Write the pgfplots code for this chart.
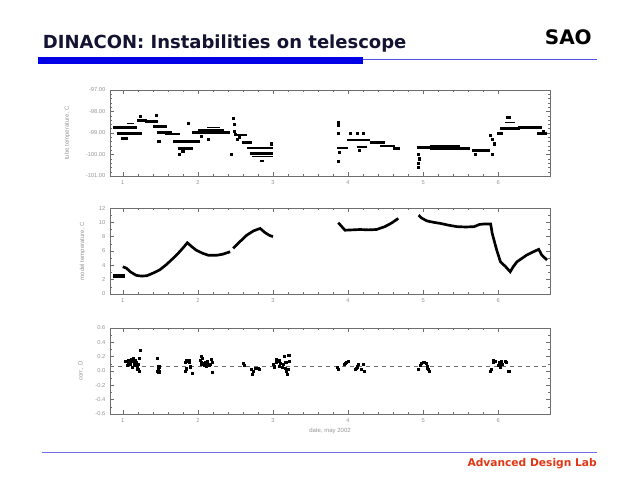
\documentclass[border=0pt]{standalone}
\usepackage{fontspec}
\setmainfont{DejaVu Sans}
\newfontfamily\smallf{Liberation Sans}
\usepackage{pgfplots}
\pgfplotsset{compat=1.18}
\definecolor{titlec}{RGB}{20,20,50}
\definecolor{barblue}{RGB}{0,0,230}
\definecolor{lineblue}{RGB}{80,80,230}
\definecolor{botblue}{RGB}{110,110,235}
\definecolor{adlred}{RGB}{225,55,20}
\definecolor{axgray}{RGB}{110,110,110}
\definecolor{lblgray}{RGB}{150,150,150}
\pgfplotsset{panel/.style={
  scale only axis, width=330pt, height=64.5pt,
  xmin=0.83, xmax=6.69, xtick={1,2,3,4,5,6}, minor x tick num=4,
  axis line style={axgray, line width=0.4pt},
  every tick/.style={axgray, line width=0.3pt},
  major tick length=3pt, minor tick length=1.5pt,
  tick label style={font=\smallf\fontsize{4.3}{5}\selectfont, text=lblgray},
  label style={font=\smallf\fontsize{4.5}{5}\selectfont, text=lblgray},
  /pgf/number format/assume math mode=true,
  anchor=south west, clip=true, unbounded coords=jump}}
\begin{document}
\begin{tikzpicture}
\path[fill=white] (0,0) rectangle (480pt,360pt);
% slide decoration
\node[anchor=base west, inner sep=0, text=titlec, font=\bfseries\fontsize{13.5}{15}\selectfont] at (32pt,324pt) {DINACON: Instabilities on telescope};
\node[anchor=base east, inner sep=0, text=black, font=\bfseries\fontsize{15}{17}\selectfont] at (444pt,327pt) {SAO};
\fill[barblue] (28.5pt,312pt) rectangle (272.25pt,317.25pt);
\draw[lineblue, line width=0.75pt] (272.25pt,315.75pt) -- (447.75pt,315.75pt);
\draw[botblue, line width=0.75pt] (31.5pt,21pt) -- (447.75pt,21pt);
\node[anchor=base east, inner sep=0, text=adlred, font=\bfseries\fontsize{8}{10}\selectfont] at (447.75pt,10.5pt) {Advanced Design Lab};

% top panel
\begin{axis}[panel, at={(82.5pt,228pt)},
  ymin=-101, ymax=-97, ytick={-101,-100,-99,-98,-97}, minor y tick num=4,
  yticklabel style={/pgf/number format/.cd, fixed, fixed zerofill, precision=2},
  ylabel={tube temperature, C},
  ylabel style={at={(axis description cs:-0.08,0.5)}}]
\addplot[black, line width=2pt] coordinates {
(0.87,-98.74) (1.19,-98.74) (1.19,nan)
(0.92,-99.02) (1.25,-99.02) (1.25,nan)
(1.19,-98.41) (1.32,-98.41) (1.32,nan)
(1.22,-98.22) (1.26,-98.22) (1.26,nan)
(1.29,-98.46) (1.47,-98.46) (1.47,nan)
(1.40,-98.69) (1.59,-98.69) (1.59,nan)
(1.45,-98.98) (1.65,-98.98) (1.65,nan)
(1.56,-99.04) (1.76,-99.04) (1.76,nan)
(1.67,-99.38) (2.03,-99.38) (2.03,nan)
(1.73,-99.72) (1.93,-99.72) (1.93,nan)
(1.92,-98.98) (2.43,-98.98) (2.43,nan)
(2.00,-98.88) (2.35,-98.88) (2.35,nan)
(2.52,-99.10) (2.65,-99.10) (2.65,nan)
(2.59,-99.45) (2.72,-99.45) (2.72,nan)
(2.65,-99.70) (3.00,-99.70) (3.00,nan)
(2.69,-99.95) (3.00,-99.95) (3.00,nan)
(3.85,-99.70) (4.00,-99.70) (4.00,nan)
(3.99,-99.33) (4.29,-99.33) (4.29,nan)
(4.12,-99.65) (4.25,-99.65) (4.25,nan)
(4.29,-99.45) (4.49,-99.45) (4.49,nan)
(4.43,-99.60) (4.63,-99.60) (4.63,nan)
(4.60,-99.73) (4.69,-99.73) (4.69,nan)
(4.92,-99.68) (5.09,-99.68) (5.09,nan)
(5.09,-99.62) (5.49,-99.62) (5.49,nan)
(5.09,-99.72) (5.49,-99.72) (5.49,nan)
(5.45,-99.72) (5.62,-99.72) (5.62,nan)
(5.65,-99.82) (5.89,-99.82) (5.89,nan)
(5.99,-99.02) (6.07,-99.02) (6.07,nan)
(6.03,-98.79) (6.29,-98.79) (6.29,nan)
(6.27,-98.74) (6.59,-98.74) (6.59,nan)
(6.52,-99.02) (6.65,-99.02)
};
\addplot[black, line width=1pt] coordinates {
(2.12,-98.74) (2.30,-98.74) (2.30,nan)
(2.72,-100.10) (3.00,-100.10) (3.00,nan)
(2.83,-100.30) (2.88,-100.30) (2.88,nan)
(6.09,-98.50) (6.23,-98.50) (6.23,nan)
(1.05,-98.55) (1.15,-98.55)
};
\addplot[only marks, mark=square*, mark size=0.8pt, black] coordinates {
(1.00,-99.26) (1.05,-99.26) (1.45,-98.18) (1.48,-99.40) (1.75,-100.00)
(1.80,-99.85) (1.87,-98.55) (2.14,-99.30) (2.05,-99.15) (2.45,-99.97)
(2.47,-98.30) (2.48,-98.60) (2.49,-98.90) (2.50,-99.05) (2.52,-99.30)
(2.55,-99.20) (2.98,-99.50) (3.87,-98.50) (3.87,-98.65) (3.87,-99.00)
(3.87,-100.30) (3.88,-99.90) (4.03,-99.00) (4.12,-99.00) (4.20,-99.00)
(4.15,-99.80) (4.93,-99.97) (4.95,-100.20) (4.94,-100.40) (4.93,-100.60)
(5.70,-99.97) (5.92,-99.97) (5.90,-99.10) (5.92,-99.30) (5.95,-99.50)
(6.12,-98.27) (6.15,-98.27) (6.60,-98.90)
};
\end{axis}

% middle panel
\begin{axis}[panel, at={(82.5pt,139.5pt)},
  ymin=0, ymax=12, ytick={0,2,4,6,8,10,12}, minor y tick num=1,
  ylabel={model temperature, C},
  ylabel style={at={(axis description cs:-0.045,0.5)}}]
\addplot[black, line width=2.6pt] coordinates {(0.87,2.5) (1.03,2.5)};
\addplot[black, line width=2pt] coordinates {
(1.00,3.80) (1.05,3.60) (1.10,3.10) (1.18,2.60) (1.25,2.50) (1.32,2.55)
(1.40,2.90) (1.49,3.35) (1.58,4.10) (1.67,4.97) (1.74,5.70) (1.80,6.40)
(1.86,7.15) (1.92,6.60) (1.98,6.10) (2.06,5.70) (2.14,5.40) (2.25,5.40)
(2.33,5.55) (2.43,5.90) (2.43,nan)
(2.47,6.37) (2.56,7.30) (2.65,8.20) (2.74,8.80) (2.83,9.15) (2.89,8.60)
(2.95,8.20) (3.00,8.00) (3.00,nan)
(3.87,9.95) (3.96,8.90) (4.06,8.95) (4.16,9.00) (4.27,8.95) (4.38,9.00)
(4.49,9.40) (4.58,9.90) (4.67,10.55) (4.67,nan)
(4.94,11.00) (4.98,10.60) (5.05,10.20) (5.14,10.00) (5.23,9.85) (5.34,9.60)
(5.45,9.40) (5.57,9.35) (5.68,9.40) (5.75,9.70) (5.81,9.77) (5.90,9.77)
(5.92,8.47) (5.95,7.30) (5.98,6.14) (6.03,4.50) (6.10,3.80) (6.16,3.10)
(6.20,3.80) (6.25,4.50) (6.32,5.00) (6.38,5.44) (6.46,5.85) (6.54,6.23)
(6.58,5.44) (6.65,4.74)
};
\end{axis}

% bottom panel
\begin{axis}[panel, at={(82.5pt,49.5pt)},
  ymin=-0.6, ymax=0.6, ytick={-0.6,-0.4,-0.2,0,0.2,0.4,0.6}, minor y tick num=1,
  yticklabel style={/pgf/number format/.cd, fixed, fixed zerofill, precision=1},
  ylabel={corr., D},
  ylabel style={at={(axis description cs:-0.05,0.5)}},
  xlabel={date, may 2002},
  xlabel style={yshift=3pt}]
\addplot[axgray, dashed, line width=0.5pt] coordinates {(0.83,0.07) (6.69,0.07)};
\addplot[only marks, mark=square*, mark size=0.8pt, black] coordinates {
(1.03,0.13) (1.05,0.14) (1.07,0.12) (1.08,0.15) (1.10,0.10) (1.11,0.16)
(1.12,0.13) (1.14,0.17) (1.15,0.11) (1.16,0.08) (1.17,0.15) (1.18,0.12)
(1.19,0.06) (1.20,0.02) (1.21,0.10) (1.22,0.00) (1.23,0.29) (1.22,0.18)
(1.13,0.05) (1.06,0.08)
(1.46,0.18) (1.47,0.04) (1.47,0.02) (1.48,0.06) (1.48,-0.01) (1.46,0.00)
(1.83,0.12) (1.84,0.14) (1.85,0.15) (1.86,0.13) (1.87,0.14) (1.88,0.12)
(1.89,0.15) (1.84,0.02) (1.83,0.00) (1.85,0.04) (1.90,0.06) (1.92,-0.03)
(2.03,0.15) (2.04,0.10) (2.05,0.12) (2.06,0.18) (2.07,0.09) (2.08,0.08)
(2.09,0.11) (2.10,0.12) (2.11,0.07) (2.12,0.09) (2.13,0.13) (2.15,0.08)
(2.16,0.10) (2.18,0.16) (2.19,0.12) (2.19,-0.02) (2.05,0.21)
(2.60,0.11) (2.62,0.08) (2.71,0.02) (2.72,-0.04) (2.74,0.00) (2.76,0.04)
(2.78,0.04) (2.80,0.04) (2.82,0.03)
(3.00,0.10) (3.02,0.06) (3.04,0.12) (3.05,0.16) (3.06,0.13) (3.08,0.15)
(3.09,0.07) (3.10,0.11) (3.12,0.05) (3.14,0.09) (3.15,0.20) (3.16,0.04)
(3.17,0.12) (3.18,0.00) (3.19,-0.05) (3.20,0.02) (3.22,0.14) (3.21,0.22)
(3.86,0.05) (3.87,0.03) (3.95,0.09) (3.96,0.11) (3.98,0.12) (4.00,0.13)
(4.10,0.02) (4.11,0.04) (4.12,0.06) (4.14,0.09) (4.18,0.02) (4.20,0.10)
(4.22,0.00)
(4.94,0.02) (4.96,0.08) (4.98,0.11) (5.00,0.12) (5.02,0.12) (5.04,0.11)
(5.06,0.06) (5.07,0.03) (5.08,0.00) (5.06,0.04)
(5.90,0.00) (5.91,0.02) (5.93,0.12) (5.94,0.15) (5.96,0.13) (6.00,0.08)
(6.01,0.11) (6.02,0.12) (6.03,0.06) (6.04,0.13) (6.05,0.10) (6.09,0.13)
(6.11,0.12) (6.14,0.00)
};
\end{axis}
\end{tikzpicture}
\end{document}
